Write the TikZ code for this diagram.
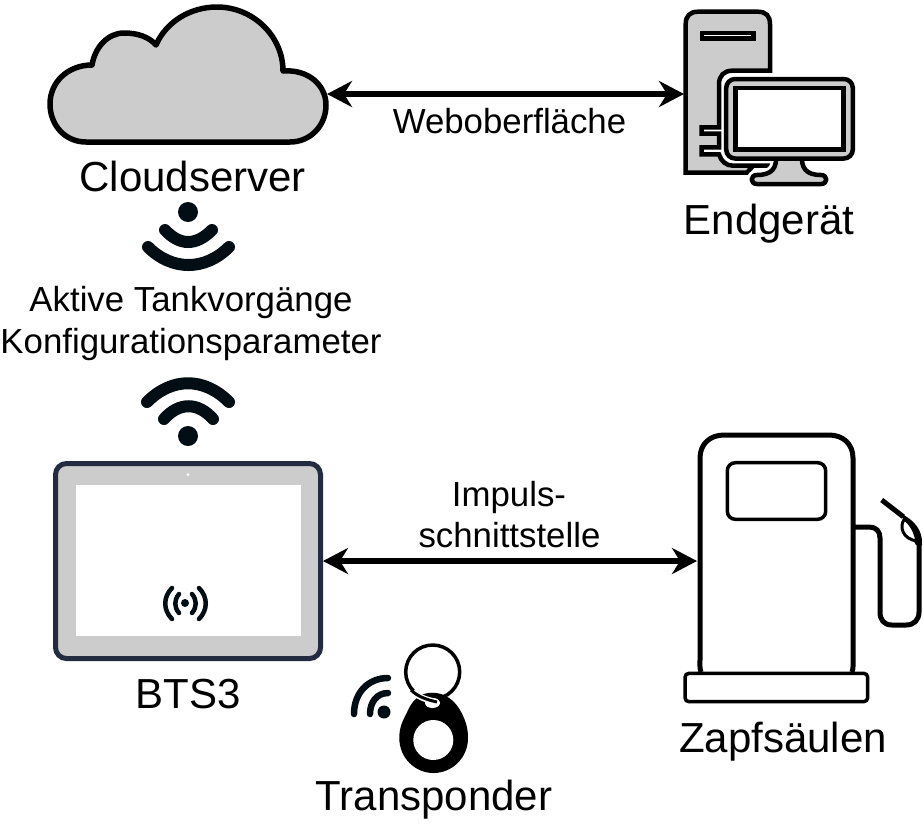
\documentclass[tikz,border=0pt]{standalone}
\usepackage{fontspec}
\setmainfont{Liberation Sans}
\usetikzlibrary{arrows.meta}
\definecolor{icondark}{HTML}{020D14}
\definecolor{tabletedge}{HTML}{232B40}
\definecolor{shade}{HTML}{CCCCCC}
\tikzset{
  big/.style={anchor=base,inner sep=0pt,font=\fontsize{42}{48}\selectfont},
  mid/.style={anchor=base,inner sep=0pt,font=\fontsize{34.8}{40}\selectfont},
  holder/.style={inner sep=0pt,outer sep=0pt},
  link/.style={line width=5.5pt,{Stealth[length=25pt,width=26pt,inset=8pt]}-{Stealth[length=25pt,width=26pt,inset=8pt]}},
  outline/.style={draw=black,line join=round},
  wave/.style={draw=icondark,line cap=round,fill=none},
}
\begin{document}
\begin{tikzpicture}[x=1pt,y=-1pt]
\useasboundingbox (0,0) rectangle (924,831);
% anchor holders
\node[holder,minimum width=278pt,minimum height=136pt] (cloud) at (188,94) {};
\node[holder,minimum width=172pt,minimum height=166pt] (computer) at (770,94) {};
\node[holder,minimum width=170pt,minimum height=250pt] (pump) at (782,561) {};
% cloud
\draw[outline,fill=shade,line width=5.5pt]
  (86,142) .. controls (65,142) and (50,125) .. (50,104)
  .. controls (50,82) and (68,65) .. (92,65)
  .. controls (95,47) and (108,33) .. (124,33)
  .. controls (138,33) and (149,37) .. (156,45)
  .. controls (166,22) and (190,7) .. (217,7)
  .. controls (253,7) and (283,36) .. (283,71)
  .. controls (308,69) and (326,85) .. (326,105)
  .. controls (326,126) and (310,142) .. (290,142)
  -- cycle;
% computer
\draw[outline,fill=shade,line width=4.5pt,line join=miter]
  (685.7,24) .. controls (685.7,16) and (690,11.7) .. (698,11.7)
  -- (758,11.7) .. controls (766,11.7) and (770,16) .. (770,24)
  -- (770,70.7) -- (732,70.7) .. controls (724,70.7) and (719,76) .. (719,84)
  -- (719,127.3) -- (701.5,127.3) -- (701.5,133.7) -- (719,133.7)
  -- (719,147.3) -- (701.5,147.3) -- (701.5,154.4) -- (719,154.4)
  .. controls (721,161) and (726,165.7) .. (733,165.7)
  -- (770,165.7) -- (753,165.7) -- (747,172.7) -- (685.7,172.7) -- cycle;
\draw[draw=black,fill=white,line width=4.5pt] (702,33) rectangle (753.5,38.5);
\def\standpath{(776,155) .. controls (777,168) and (772,175) .. (757,175)
  .. controls (750,175) and (750,184) .. (757,184) -- (821,184)
  .. controls (828,184) and (828,175) .. (821,175)
  .. controls (806,175) and (801,168) .. (802,155)}
\draw[white,line width=10pt] \standpath;
\draw[outline,fill=shade,line width=4.5pt] \standpath;
\draw[draw=black,fill=shade,line width=4.5pt,rounded corners=9pt] (726.2,79) rectangle (852.8,158.5);
\draw[draw=black,fill=white,line width=4.5pt] (735.5,88) rectangle (843.5,149.5);
% upper wifi
\fill[icondark] (188,212) circle (10pt);
\draw[wave,line width=12pt] (165,230) .. controls (180,246) and (196,246) .. (212,230);
\draw[wave,line width=12pt] (148,247) .. controls (172,271) and (205,271) .. (229,247);
% lower wifi
\fill[icondark] (188,436) circle (10pt);
\draw[wave,line width=12pt] (164,419) .. controls (179,402) and (198,402) .. (213,419);
\draw[wave,line width=12pt] (147,402) .. controls (172,377) and (204,377) .. (229,402);
% tablet
\node[holder,outer sep=2.5pt,draw=tabletedge,fill=shade,line width=5pt,rounded corners=11pt,
      minimum width=265pt,minimum height=195pt] (tablet) at (188,561) {};
\fill[white] (76,485) rectangle (301,636);
\fill[white] (188,474.5) circle (1.5pt);
\fill[icondark] (185,603) circle (4pt);
\draw[wave,line width=4.5pt] (179,594) .. controls (174,600) and (174,607) .. (179,613);
\draw[wave,line width=4.5pt] (192,594) .. controls (197,600) and (197,607) .. (192,613);
\draw[wave,line width=4.5pt] (172,588) .. controls (163,597) and (163,610) .. (172,619);
\draw[wave,line width=4.5pt] (199,588) .. controls (208,597) and (208,610) .. (199,619);
% pump
\draw[outline,fill=white,line width=5pt]
  (701,672) .. controls (699.5,668) and (700,664) .. (700,660) -- (700,458)
  .. controls (700,444) and (710,435) .. (724,435) -- (829,435)
  .. controls (843,435) and (853,444) .. (853,458) -- (853,660)
  .. controls (853,664) and (853.5,668) .. (852,672);
\draw[draw=black,fill=white,line width=3.5pt,rounded corners=8pt] (727.3,462.7) rectangle (825.7,519.3);
\draw[draw=black,fill=white,line width=3.5pt,rounded corners=4pt] (685,673.3) rectangle (867.7,701.7);
\draw[black,line width=5pt,line join=round]
  (854,527) -- (869,527) .. controls (876,527) and (880,531) .. (880,538)
  -- (880,612) .. controls (880,620) and (884,625) .. (892,625)
  -- (906,625) .. controls (914,625) and (919,620) .. (919,612) -- (919,540);
\draw[black,line width=5pt] (881.7,500) -- (903.3,516.7);
\fill[black] (901,513.5) .. controls (914,520) and (923,530) .. (922,545) -- (916,545)
  -- (905,525) -- cycle;
\draw[draw=black,fill=white,line width=3pt] (904.5,519) .. controls (899,526) and (902,539) .. (917,541)
  .. controls (915,532) and (912,525) .. (904.5,519) -- cycle;
% transponder
\draw[black,line width=3.5pt] (432.7,672) circle (27pt);
\fill[black] (432,692.7) .. controls (445,692.7) and (455,700) .. (461.7,713)
  .. controls (466,722) and (468,728) .. (468,738)
  .. controls (468,758) and (452,773) .. (433.5,773)
  .. controls (415,773) and (399.3,758) .. (399.3,738)
  .. controls (399.3,728) and (402,722) .. (406.7,713)
  .. controls (412,700) and (420,692.7) .. (432,692.7) -- cycle;
\fill[white] (433.3,740) circle (20pt);
\fill[white] (432.5,703) ellipse (7.5pt and 5pt);
\draw[white,line width=6pt] (413,692) .. controls (420,698) and (428,700) .. (437,702);
\draw[black,line width=3pt] (411,690) .. controls (418,697) and (428,700) .. (437,702);
\fill[icondark] (384,712) circle (6.5pt);
\draw[wave,line width=6.5pt] (370,714) .. controls (370,702) and (377,693) .. (388,693);
\draw[wave,line width=6.5pt] (354,714) .. controls (354,693) and (368,678) .. (388,678);
% labels
\node[big] (cloudlabel) at (192.7,191) {Cloudserver};
\node[big] (computerlabel) at (769,234) {Endgerät};
\node[big] (tabletlabel) at (188,708) {BTS3};
\node[big] (pumplabel) at (783,752) {Zapfsäulen};
\node[big] (tokenlabel) at (434,810) {Transponder};
\node[mid] (weblabel) at (509.5,133) {Weboberfläche};
\node[mid] (datalabela) at (191,311) {Aktive Tankvorgänge};
\node[mid] (datalabelb) at (191,353) {Konfigurationsparameter};
\node[mid] (pulselabela) at (509,506) {Impuls-};
\node[mid] (pulselabelb) at (509.5,547) {schnittstelle};
% connectors
\draw[link] (cloud.east) -- (computer.west);
\draw[link] (tablet.east) -- (pump.west);
\end{tikzpicture}
\end{document}
